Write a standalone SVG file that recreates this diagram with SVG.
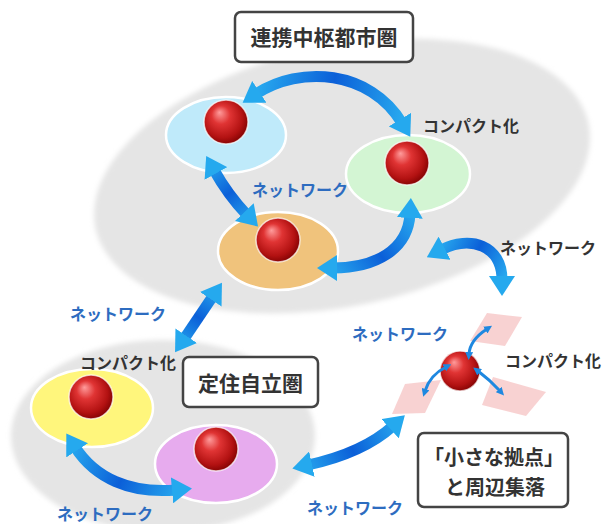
<svg xmlns="http://www.w3.org/2000/svg" xmlns:xlink="http://www.w3.org/1999/xlink" width="605" height="524" viewBox="0 0 605 524">
<style>
.t{font-family:"Noto Sans CJK JP","Noto Sans",sans-serif;font-weight:700}
.lbl{font-size:16px;fill:#333}
.net{font-size:16px;fill:#2d6cc0}
.boxt{font-size:21px;fill:#333}
.boxs{font-size:20px;fill:#333}
.box{fill:#fff;stroke:#444;stroke-width:2.5}
.node{stroke:#fff;stroke-width:2.5}
.ball{fill:url(#ballG);stroke:#fff;stroke-opacity:.7;stroke-width:1.5}
.arr{fill:none;stroke-width:11;marker-start:url(#ah);marker-end:url(#ah)}
.sarr{fill:none;stroke:#1e88e0;stroke-width:3;marker-start:url(#sh);marker-end:url(#sh)}
.piece{fill:#f7caca;opacity:.85}
</style>
<defs>
<filter id="soft" x="-10%" y="-10%" width="120%" height="120%"><feGaussianBlur stdDeviation="2.5"/></filter>
<radialGradient id="ballG" cx="0.45" cy="0.45" r="0.6" fx="0.35" fy="0.28">
<stop offset="0" stop-color="#ff9c9c"/>
<stop offset="0.35" stop-color="#e03434"/>
<stop offset="0.75" stop-color="#b31212"/>
<stop offset="1" stop-color="#7a0000"/>
</radialGradient>
<linearGradient id="ag"><stop offset="0" stop-color="#2cb4f2"/><stop offset="0.5" stop-color="#0b5fd8"/><stop offset="1" stop-color="#2cb4f2"/></linearGradient>
<linearGradient id="g1" href="#ag" xlink:href="#ag" gradientUnits="userSpaceOnUse" x1="243" y1="103" x2="410" y2="137"/>
<linearGradient id="g2" href="#ag" xlink:href="#ag" gradientUnits="userSpaceOnUse" x1="206" y1="156" x2="258" y2="227"/>
<linearGradient id="g3" href="#ag" xlink:href="#ag" gradientUnits="userSpaceOnUse" x1="317" y1="268" x2="411" y2="198"/>
<linearGradient id="g4" href="#ag" xlink:href="#ag" gradientUnits="userSpaceOnUse" x1="427" y1="257" x2="502" y2="296"/>
<linearGradient id="g5" href="#ag" xlink:href="#ag" gradientUnits="userSpaceOnUse" x1="222" y1="283" x2="175" y2="352"/>
<linearGradient id="g6" href="#ag" xlink:href="#ag" gradientUnits="userSpaceOnUse" x1="66" y1="434" x2="192" y2="489"/>
<linearGradient id="g7" href="#ag" xlink:href="#ag" gradientUnits="userSpaceOnUse" x1="292" y1="468" x2="405" y2="415"/>
<marker id="ah" viewBox="0 0 20 26" refX="4" refY="13" markerWidth="20" markerHeight="26" markerUnits="userSpaceOnUse" orient="auto-start-reverse">
<path d="M0,0 L20,13 L0,26 Z" fill="#25a9ee"/>
</marker>
<marker id="sh" viewBox="0 0 8 8" refX="2" refY="4" markerWidth="8" markerHeight="8" markerUnits="userSpaceOnUse" orient="auto-start-reverse">
<path d="M0,0 L8,4 L0,8 Z" fill="#1e88e0"/>
</marker>
</defs>

<rect width="605" height="524" fill="#fff"/>

<g id="areas">
<ellipse cx="342" cy="176" rx="252" ry="130" transform="rotate(-12 342 176)" fill="#e5e5e5" filter="url(#soft)"/>
<ellipse cx="163" cy="436" rx="152" ry="96" fill="#e5e5e5" filter="url(#soft)"/>
</g>

<g id="node-lightblue"><ellipse class="node" cx="226" cy="135" rx="60" ry="38" fill="#bfeafa"/><circle class="ball" cx="226" cy="122" r="22"/></g>
<g id="node-green"><ellipse class="node" cx="408" cy="174" rx="62" ry="39" fill="#d3f5d3"/><circle class="ball" cx="407" cy="163" r="22"/></g>
<g id="node-orange"><ellipse class="node" cx="278" cy="251" rx="60" ry="39" fill="#f0c37c"/><circle class="ball" cx="278" cy="240" r="22"/></g>
<g id="node-yellow"><ellipse class="node" cx="92" cy="408" rx="61" ry="39" fill="#fff67c"/><circle class="ball" cx="91" cy="397" r="22"/></g>
<g id="node-violet"><ellipse class="node" cx="216" cy="464" rx="61" ry="39" fill="#e7abee"/><circle class="ball" cx="216" cy="449" r="22"/></g>

<g id="node-small-base">
<polygon class="piece" points="487,313 522,317 505,346 470,341"/>
<polygon class="piece" points="405,384 441,380 425,413 392,414"/>
<polygon class="piece" points="493,377 546,392 526,416 482,405"/>
<circle class="ball" cx="460" cy="371" r="20"/>
</g>

<g id="connectors">
<path class="arr" stroke="url(#g1)" d="M256,94 C300,65 370,70 402,123"/>
<path class="arr" stroke="url(#g2)" d="M214,170 Q228,195 247,215"/>
<path class="arr" stroke="url(#g3)" d="M333,268 C375,268 408,250 410,214"/>
<path class="arr" stroke="url(#g4)" stroke-width="10" d="M441,250 C470,235 502,245 502,280"/>
<path class="arr" stroke="url(#g5)" stroke-width="10" d="M213,296 L184,339"/>
<path class="arr" stroke="url(#g6)" d="M75,447 C95,478 130,494 176,490"/>
<path class="arr" stroke="url(#g7)" d="M308,465 C340,458 372,445 393,426"/>
<path class="sarr" d="M487,329 Q470,340 469,354"/>
<path class="sarr" d="M446,367 Q430,375 425,391"/>
<path class="sarr" d="M478,371 Q490,380 500,391"/>
</g>

<g id="box-renkei"><rect class="box" x="235" y="12" width="178" height="50" rx="6"/><text class="t boxt" x="324" y="45" text-anchor="middle">連携中枢都市圏</text></g>
<g id="box-teiju"><rect class="box" x="183" y="357" width="135" height="50" rx="6"/><text class="t boxt" x="250.5" y="391" text-anchor="middle">定住自立圏</text></g>
<g id="box-chiisana"><rect class="box" x="418" y="433" width="150" height="74" rx="6"/><text class="t boxs" x="494" y="465" text-anchor="middle">「小さな拠点」</text><text class="t boxs" x="495" y="495" text-anchor="middle">と周辺集落</text></g>

<g id="labels">
<text class="t lbl" x="423" y="132">コンパクト化</text>
<text class="t net" x="252" y="196">ネットワーク</text>
<text class="t lbl" x="500" y="254">ネットワーク</text>
<text class="t net" x="352" y="340">ネットワーク</text>
<text class="t lbl" x="505" y="367">コンパクト化</text>
<text class="t net" x="307" y="514">ネットワーク</text>
<text class="t net" x="70" y="320">ネットワーク</text>
<text class="t lbl" x="80" y="369">コンパクト化</text>
<text class="t net" x="57" y="520">ネットワーク</text>
</g>
</svg>
